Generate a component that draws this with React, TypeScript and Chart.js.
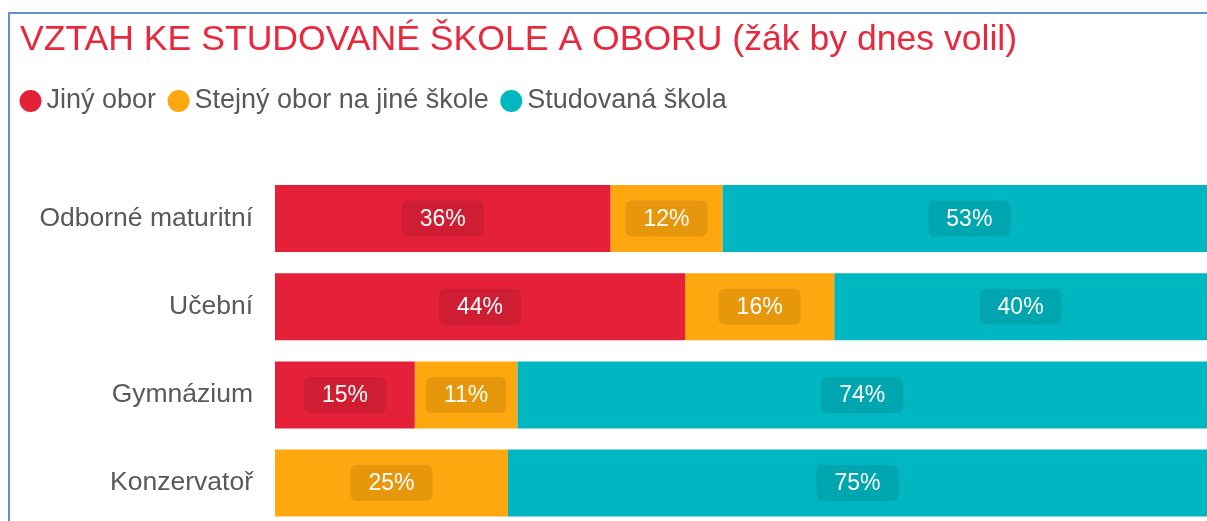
import React, { useEffect, useRef } from "react";
import { Chart, registerables } from "chart.js";

Chart.register(...registerables);

const FONT = "'Liberation Sans', Arial, Helvetica, sans-serif";

const TITLE = "VZTAH KE STUDOVANÉ ŠKOLE A OBORU (žák by dnes volil)";
const categories = ["Odborné maturitní", "Učební", "Gymnázium", "Konzervatoř"];
const seriesNames = ["Jiný obor", "Stejný obor na jiné škole", "Studovaná škola"];
const seriesColors = ["#E42139", "#FEA70E", "#00B7C1"];
const jinyObor = [36, 44, 15, 0];
const stejnyObor = [12, 16, 11, 25];
const studovanaSkola = [53, 40, 74, 75];
const seriesValues = [jinyObor, stejnyObor, studovanaSkola];

const segmentLabels = {
  id: "segmentLabels",
  afterDatasetsDraw(chart: any) {
    const ctx = chart.ctx;
    ctx.save();
    ctx.font = `23px ${FONT}`;
    ctx.textAlign = "center";
    ctx.textBaseline = "middle";
    chart.data.datasets.forEach((ds: any, di: number) => {
      const meta = chart.getDatasetMeta(di);
      meta.data.forEach((el: any, i: number) => {
        const v = ds.data[i];
        if (!v) return;
        const { x, base, y } = el.getProps(["x", "base", "y"], true);
        const cx = (x + base) / 2;
        const text = `${v}%`;
        const tw = ctx.measureText(text).width;
        const w = tw + 36;
        const h = 36;
        ctx.fillStyle = "rgba(0,0,0,0.09)";
        ctx.beginPath();
        ctx.roundRect(cx - w / 2, y - h / 2, w, h, 6);
        ctx.fill();
        ctx.fillStyle = "#ffffff";
        ctx.fillText(text, cx, y + 1);
      });
    });
    ctx.restore();
  },
};

const legendShift = {
  id: "legendShift",
  afterLayout(chart: any) {
    if (chart.legend) {
      chart.legend.left -= 12;
      chart.legend.right -= 12;
    }
  },
};

export default function App() {
  const ref = useRef<HTMLCanvasElement | null>(null);

  useEffect(() => {
    if (!ref.current) return;
    const chart = new Chart(ref.current, {
      type: "bar",
      data: {
        labels: categories,
        datasets: seriesNames.map((name, i) => ({
          label: name,
          data: seriesValues[i],
          backgroundColor: seriesColors[i],
          borderWidth: 0,
          pointStyle: "circle",
          barPercentage: 0.76,
          categoryPercentage: 1,
        })),
      },
      options: {
        responsive: false,
        animation: false,
        indexAxis: "y",
        layout: { padding: { left: 20, right: 0, top: 0, bottom: 0 } },
        plugins: {
          title: {
            display: true,
            text: TITLE,
            align: "start",
            color: "#E8283C",
            font: { family: FONT, size: 35.6, weight: "normal" },
            padding: { top: 18.6, bottom: 6.2 },
          },
          legend: {
            display: true,
            align: "start",
            labels: {
              usePointStyle: true,
              pointStyle: "circle",
              boxWidth: 5,
              boxHeight: 15.56,
              padding: 20,
              color: "#595959",
              font: { family: FONT, size: 27 },
            },
          },
          tooltip: { enabled: false },
        },
        scales: {
          x: {
            stacked: true,
            min: 0,
            max: 100,
            position: "top",
            grid: { display: false, drawTicks: false },
            border: { display: false },
            ticks: { display: false },
            afterFit: (s: any) => {
              s.height = 50;
            },
          },
          y: {
            stacked: true,
            grid: { display: false, drawTicks: false },
            border: { display: false },
            ticks: { color: "#595959", font: { family: FONT, size: 26.5 }, padding: 22 },
            afterFit: (s: any) => {
              s.width = 255;
            },
          },
        },
      },
      plugins: [segmentLabels, legendShift],
    } as any);
    return () => chart.destroy();
  }, []);

  return (
    <div
      style={{
        position: "fixed",
        left: 0,
        top: 0,
        width: 1207,
        height: 521,
        overflow: "hidden",
        background: "#ffffff",
      }}
    >
      <canvas
        ref={ref}
        width={1207}
        height={565}
        style={{ position: "absolute", left: 0, top: 0 }}
      />
      <div
        style={{
          position: "absolute",
          left: 8,
          top: 12,
          width: 1400,
          height: 700,
          borderTop: "2px solid #5f8fcf",
          borderLeft: "2px solid #5f8fcf",
          pointerEvents: "none",
        }}
      />
    </div>
  );
}
